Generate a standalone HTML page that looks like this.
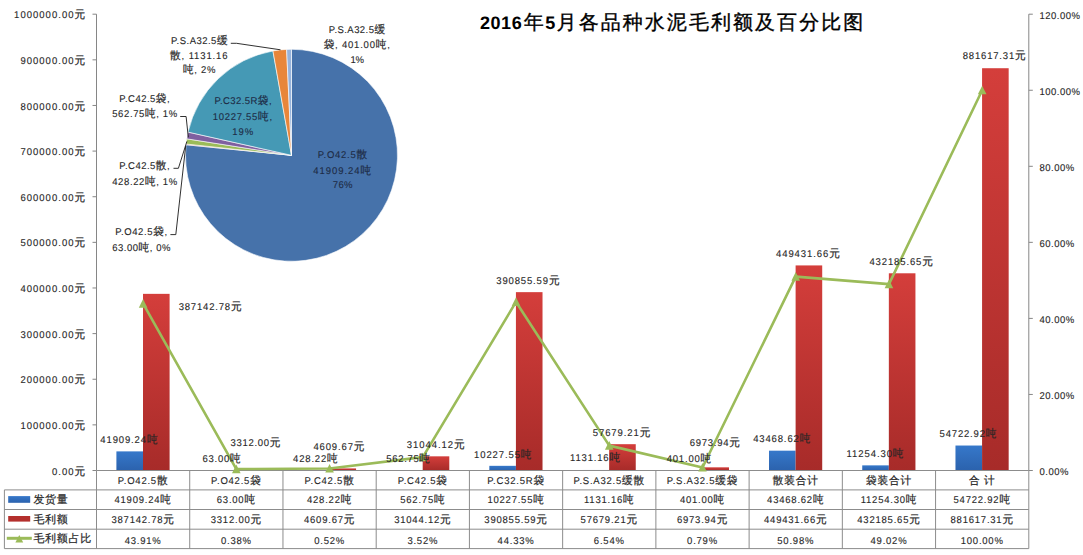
<!DOCTYPE html>
<html><head><meta charset="utf-8"><style>
html,body{margin:0;padding:0;background:#fff;}
body{width:1083px;height:555px;overflow:hidden;}
svg{display:block;font-family:"Liberation Sans",sans-serif;text-rendering:geometricPrecision;}

</style></head><body>
<svg width="1083" height="555" viewBox="0 0 1083 555">
<defs>
<linearGradient id="gr" x1="0" y1="0" x2="0" y2="1"><stop offset="0" stop-color="#d43e3b"/><stop offset="1" stop-color="#a72b29"/></linearGradient>
<linearGradient id="gb" x1="0" y1="0" x2="0" y2="1"><stop offset="0" stop-color="#3678ca"/><stop offset="1" stop-color="#2b62ad"/></linearGradient>
</defs>
<rect x="116.40" y="451.38" width="26.6" height="19.12" fill="url(#gb)"/>
<rect x="143.00" y="293.85" width="26.6" height="176.65" fill="url(#gr)"/>
<rect x="209.63" y="470.47" width="26.6" height="0.03" fill="url(#gb)"/>
<rect x="236.23" y="468.99" width="26.6" height="1.51" fill="url(#gr)"/>
<rect x="302.86" y="470.30" width="26.6" height="0.20" fill="url(#gb)"/>
<rect x="329.46" y="468.40" width="26.6" height="2.10" fill="url(#gr)"/>
<rect x="396.09" y="470.24" width="26.6" height="0.26" fill="url(#gb)"/>
<rect x="422.69" y="456.33" width="26.6" height="14.17" fill="url(#gr)"/>
<rect x="489.32" y="465.83" width="26.6" height="4.67" fill="url(#gb)"/>
<rect x="515.92" y="292.15" width="26.6" height="178.35" fill="url(#gr)"/>
<rect x="582.55" y="469.98" width="26.6" height="0.52" fill="url(#gb)"/>
<rect x="609.15" y="444.18" width="26.6" height="26.32" fill="url(#gr)"/>
<rect x="675.78" y="470.32" width="26.6" height="0.18" fill="url(#gb)"/>
<rect x="702.38" y="467.32" width="26.6" height="3.18" fill="url(#gr)"/>
<rect x="769.01" y="450.67" width="26.6" height="19.83" fill="url(#gb)"/>
<rect x="795.61" y="265.42" width="26.6" height="205.08" fill="url(#gr)"/>
<rect x="862.24" y="465.36" width="26.6" height="5.14" fill="url(#gb)"/>
<rect x="888.84" y="273.29" width="26.6" height="197.21" fill="url(#gr)"/>
<rect x="955.47" y="445.53" width="26.6" height="24.97" fill="url(#gb)"/>
<rect x="982.07" y="68.22" width="26.6" height="402.28" fill="url(#gr)"/>
<path d="M96.5 14.2V470.5M1028.80 14.2V470.5" stroke="#868686" stroke-width="1" fill="none"/>
<path d="M92.5 470.50H96.5M92.5 424.87H96.5M92.5 379.24H96.5M92.5 333.61H96.5M92.5 287.98H96.5M92.5 242.35H96.5M92.5 196.72H96.5M92.5 151.09H96.5M92.5 105.46H96.5M92.5 59.83H96.5M92.5 14.20H96.5M1028.80 470.50H1032.8M1028.80 394.45H1032.8M1028.80 318.40H1032.8M1028.80 242.35H1032.8M1028.80 166.30H1032.8M1028.80 90.25H1032.8M1028.80 14.20H1032.8" stroke="#868686" stroke-width="1" fill="none"/>
<text transform="translate(86.20 474.55) scale(0.97 1)" font-size="9.8" text-anchor="end" fill="#262626" stroke="#262626" stroke-width="0.11" letter-spacing="1.05" >0.00<tspan font-size="11" stroke-width="0.2">元</tspan></text>
<text transform="translate(86.20 428.92) scale(0.97 1)" font-size="9.8" text-anchor="end" fill="#262626" stroke="#262626" stroke-width="0.11" letter-spacing="1.05" >100000.00<tspan font-size="11" stroke-width="0.2">元</tspan></text>
<text transform="translate(86.20 383.29) scale(0.97 1)" font-size="9.8" text-anchor="end" fill="#262626" stroke="#262626" stroke-width="0.11" letter-spacing="1.05" >200000.00<tspan font-size="11" stroke-width="0.2">元</tspan></text>
<text transform="translate(86.20 337.66) scale(0.97 1)" font-size="9.8" text-anchor="end" fill="#262626" stroke="#262626" stroke-width="0.11" letter-spacing="1.05" >300000.00<tspan font-size="11" stroke-width="0.2">元</tspan></text>
<text transform="translate(86.20 292.03) scale(0.97 1)" font-size="9.8" text-anchor="end" fill="#262626" stroke="#262626" stroke-width="0.11" letter-spacing="1.05" >400000.00<tspan font-size="11" stroke-width="0.2">元</tspan></text>
<text transform="translate(86.20 246.40) scale(0.97 1)" font-size="9.8" text-anchor="end" fill="#262626" stroke="#262626" stroke-width="0.11" letter-spacing="1.05" >500000.00<tspan font-size="11" stroke-width="0.2">元</tspan></text>
<text transform="translate(86.20 200.77) scale(0.97 1)" font-size="9.8" text-anchor="end" fill="#262626" stroke="#262626" stroke-width="0.11" letter-spacing="1.05" >600000.00<tspan font-size="11" stroke-width="0.2">元</tspan></text>
<text transform="translate(86.20 155.14) scale(0.97 1)" font-size="9.8" text-anchor="end" fill="#262626" stroke="#262626" stroke-width="0.11" letter-spacing="1.05" >700000.00<tspan font-size="11" stroke-width="0.2">元</tspan></text>
<text transform="translate(86.20 109.51) scale(0.97 1)" font-size="9.8" text-anchor="end" fill="#262626" stroke="#262626" stroke-width="0.11" letter-spacing="1.05" >800000.00<tspan font-size="11" stroke-width="0.2">元</tspan></text>
<text transform="translate(86.20 63.88) scale(0.97 1)" font-size="9.8" text-anchor="end" fill="#262626" stroke="#262626" stroke-width="0.11" letter-spacing="1.05" >900000.00<tspan font-size="11" stroke-width="0.2">元</tspan></text>
<text transform="translate(86.20 18.25) scale(0.97 1)" font-size="9.8" text-anchor="end" fill="#262626" stroke="#262626" stroke-width="0.11" letter-spacing="1.05" >1000000.00<tspan font-size="11" stroke-width="0.2">元</tspan></text>
<text transform="translate(1039.60 475.40) scale(0.97 1)" font-size="9.8" text-anchor="start" fill="#262626" stroke="#262626" stroke-width="0.11" letter-spacing="0.48" >0.00%</text>
<text transform="translate(1039.60 399.35) scale(0.97 1)" font-size="9.8" text-anchor="start" fill="#262626" stroke="#262626" stroke-width="0.11" letter-spacing="0.48" >20.00%</text>
<text transform="translate(1039.60 323.30) scale(0.97 1)" font-size="9.8" text-anchor="start" fill="#262626" stroke="#262626" stroke-width="0.11" letter-spacing="0.48" >40.00%</text>
<text transform="translate(1039.60 247.25) scale(0.97 1)" font-size="9.8" text-anchor="start" fill="#262626" stroke="#262626" stroke-width="0.11" letter-spacing="0.48" >60.00%</text>
<text transform="translate(1039.60 171.20) scale(0.97 1)" font-size="9.8" text-anchor="start" fill="#262626" stroke="#262626" stroke-width="0.11" letter-spacing="0.48" >80.00%</text>
<text transform="translate(1039.60 95.15) scale(0.97 1)" font-size="9.8" text-anchor="start" fill="#262626" stroke="#262626" stroke-width="0.11" letter-spacing="0.48" >100.00%</text>
<text transform="translate(1039.60 19.10) scale(0.97 1)" font-size="9.8" text-anchor="start" fill="#262626" stroke="#262626" stroke-width="0.11" letter-spacing="0.48" >120.00%</text>
<path d="M96.5 470.5H1028.80M4.4 489.9H1028.80M4.4 509.5H1028.80M4.4 529.2H1028.80M4.4 548.6H1028.80M96.50 470.5V548.6M189.73 470.5V548.6M282.96 470.5V548.6M376.19 470.5V548.6M469.42 470.5V548.6M562.65 470.5V548.6M655.88 470.5V548.6M749.11 470.5V548.6M842.34 470.5V548.6M935.57 470.5V548.6M1028.80 470.5V548.6M4.4 489.9V548.6" stroke="#8c8c8c" stroke-width="1" fill="none"/>
<text transform="translate(143.12 484.20) scale(0.97 1)" font-size="9.8" text-anchor="middle" fill="#262626" stroke="#262626" stroke-width="0.11" letter-spacing="0.8" >P.O42.5<tspan font-size="11" stroke-width="0.2">散</tspan></text>
<text transform="translate(143.12 503.20) scale(0.97 1)" font-size="9.8" text-anchor="middle" fill="#262626" stroke="#262626" stroke-width="0.11" letter-spacing="0.8" >41909.24<tspan font-size="11" stroke-width="0.2">吨</tspan></text>
<text transform="translate(143.12 522.70) scale(0.97 1)" font-size="9.8" text-anchor="middle" fill="#262626" stroke="#262626" stroke-width="0.11" letter-spacing="0.8" >387142.78<tspan font-size="11" stroke-width="0.2">元</tspan></text>
<text transform="translate(143.12 543.50) scale(0.97 1)" font-size="9.8" text-anchor="middle" fill="#262626" stroke="#262626" stroke-width="0.11" letter-spacing="0.8" >43.91%</text>
<text transform="translate(236.34 484.20) scale(0.97 1)" font-size="9.8" text-anchor="middle" fill="#262626" stroke="#262626" stroke-width="0.11" letter-spacing="0.8" >P.O42.5<tspan font-size="11" stroke-width="0.2">袋</tspan></text>
<text transform="translate(236.34 503.20) scale(0.97 1)" font-size="9.8" text-anchor="middle" fill="#262626" stroke="#262626" stroke-width="0.11" letter-spacing="0.8" >63.00<tspan font-size="11" stroke-width="0.2">吨</tspan></text>
<text transform="translate(236.34 522.70) scale(0.97 1)" font-size="9.8" text-anchor="middle" fill="#262626" stroke="#262626" stroke-width="0.11" letter-spacing="0.8" >3312.00<tspan font-size="11" stroke-width="0.2">元</tspan></text>
<text transform="translate(236.34 543.50) scale(0.97 1)" font-size="9.8" text-anchor="middle" fill="#262626" stroke="#262626" stroke-width="0.11" letter-spacing="0.8" >0.38%</text>
<text transform="translate(329.58 484.20) scale(0.97 1)" font-size="9.8" text-anchor="middle" fill="#262626" stroke="#262626" stroke-width="0.11" letter-spacing="0.8" >P.C42.5<tspan font-size="11" stroke-width="0.2">散</tspan></text>
<text transform="translate(329.58 503.20) scale(0.97 1)" font-size="9.8" text-anchor="middle" fill="#262626" stroke="#262626" stroke-width="0.11" letter-spacing="0.8" >428.22<tspan font-size="11" stroke-width="0.2">吨</tspan></text>
<text transform="translate(329.58 522.70) scale(0.97 1)" font-size="9.8" text-anchor="middle" fill="#262626" stroke="#262626" stroke-width="0.11" letter-spacing="0.8" >4609.67<tspan font-size="11" stroke-width="0.2">元</tspan></text>
<text transform="translate(329.58 543.50) scale(0.97 1)" font-size="9.8" text-anchor="middle" fill="#262626" stroke="#262626" stroke-width="0.11" letter-spacing="0.8" >0.52%</text>
<text transform="translate(422.81 484.20) scale(0.97 1)" font-size="9.8" text-anchor="middle" fill="#262626" stroke="#262626" stroke-width="0.11" letter-spacing="0.8" >P.C42.5<tspan font-size="11" stroke-width="0.2">袋</tspan></text>
<text transform="translate(422.81 503.20) scale(0.97 1)" font-size="9.8" text-anchor="middle" fill="#262626" stroke="#262626" stroke-width="0.11" letter-spacing="0.8" >562.75<tspan font-size="11" stroke-width="0.2">吨</tspan></text>
<text transform="translate(422.81 522.70) scale(0.97 1)" font-size="9.8" text-anchor="middle" fill="#262626" stroke="#262626" stroke-width="0.11" letter-spacing="0.8" >31044.12<tspan font-size="11" stroke-width="0.2">元</tspan></text>
<text transform="translate(422.81 543.50) scale(0.97 1)" font-size="9.8" text-anchor="middle" fill="#262626" stroke="#262626" stroke-width="0.11" letter-spacing="0.8" >3.52%</text>
<text transform="translate(516.04 484.20) scale(0.97 1)" font-size="9.8" text-anchor="middle" fill="#262626" stroke="#262626" stroke-width="0.11" letter-spacing="0.8" >P.C32.5R<tspan font-size="11" stroke-width="0.2">袋</tspan></text>
<text transform="translate(516.04 503.20) scale(0.97 1)" font-size="9.8" text-anchor="middle" fill="#262626" stroke="#262626" stroke-width="0.11" letter-spacing="0.8" >10227.55<tspan font-size="11" stroke-width="0.2">吨</tspan></text>
<text transform="translate(516.04 522.70) scale(0.97 1)" font-size="9.8" text-anchor="middle" fill="#262626" stroke="#262626" stroke-width="0.11" letter-spacing="0.8" >390855.59<tspan font-size="11" stroke-width="0.2">元</tspan></text>
<text transform="translate(516.04 543.50) scale(0.97 1)" font-size="9.8" text-anchor="middle" fill="#262626" stroke="#262626" stroke-width="0.11" letter-spacing="0.8" >44.33%</text>
<text transform="translate(609.26 484.20) scale(0.97 1)" font-size="9.8" text-anchor="middle" fill="#262626" stroke="#262626" stroke-width="0.11" letter-spacing="0.8" >P.S.A32.5<tspan font-size="11" stroke-width="0.2">缓散</tspan></text>
<text transform="translate(609.26 503.20) scale(0.97 1)" font-size="9.8" text-anchor="middle" fill="#262626" stroke="#262626" stroke-width="0.11" letter-spacing="0.8" >1131.16<tspan font-size="11" stroke-width="0.2">吨</tspan></text>
<text transform="translate(609.26 522.70) scale(0.97 1)" font-size="9.8" text-anchor="middle" fill="#262626" stroke="#262626" stroke-width="0.11" letter-spacing="0.8" >57679.21<tspan font-size="11" stroke-width="0.2">元</tspan></text>
<text transform="translate(609.26 543.50) scale(0.97 1)" font-size="9.8" text-anchor="middle" fill="#262626" stroke="#262626" stroke-width="0.11" letter-spacing="0.8" >6.54%</text>
<text transform="translate(702.50 484.20) scale(0.97 1)" font-size="9.8" text-anchor="middle" fill="#262626" stroke="#262626" stroke-width="0.11" letter-spacing="0.8" >P.S.A32.5<tspan font-size="11" stroke-width="0.2">缓袋</tspan></text>
<text transform="translate(702.50 503.20) scale(0.97 1)" font-size="9.8" text-anchor="middle" fill="#262626" stroke="#262626" stroke-width="0.11" letter-spacing="0.8" >401.00<tspan font-size="11" stroke-width="0.2">吨</tspan></text>
<text transform="translate(702.50 522.70) scale(0.97 1)" font-size="9.8" text-anchor="middle" fill="#262626" stroke="#262626" stroke-width="0.11" letter-spacing="0.8" >6973.94<tspan font-size="11" stroke-width="0.2">元</tspan></text>
<text transform="translate(702.50 543.50) scale(0.97 1)" font-size="9.8" text-anchor="middle" fill="#262626" stroke="#262626" stroke-width="0.11" letter-spacing="0.8" >0.79%</text>
<text transform="translate(795.73 484.20) scale(0.97 1)" font-size="9.8" text-anchor="middle" fill="#262626" stroke="#262626" stroke-width="0.11" letter-spacing="0.8" ><tspan font-size="11" stroke-width="0.2">散装合计</tspan></text>
<text transform="translate(795.73 503.20) scale(0.97 1)" font-size="9.8" text-anchor="middle" fill="#262626" stroke="#262626" stroke-width="0.11" letter-spacing="0.8" >43468.62<tspan font-size="11" stroke-width="0.2">吨</tspan></text>
<text transform="translate(795.73 522.70) scale(0.97 1)" font-size="9.8" text-anchor="middle" fill="#262626" stroke="#262626" stroke-width="0.11" letter-spacing="0.8" >449431.66<tspan font-size="11" stroke-width="0.2">元</tspan></text>
<text transform="translate(795.73 543.50) scale(0.97 1)" font-size="9.8" text-anchor="middle" fill="#262626" stroke="#262626" stroke-width="0.11" letter-spacing="0.8" >50.98%</text>
<text transform="translate(888.96 484.20) scale(0.97 1)" font-size="9.8" text-anchor="middle" fill="#262626" stroke="#262626" stroke-width="0.11" letter-spacing="0.8" ><tspan font-size="11" stroke-width="0.2">袋装合计</tspan></text>
<text transform="translate(888.96 503.20) scale(0.97 1)" font-size="9.8" text-anchor="middle" fill="#262626" stroke="#262626" stroke-width="0.11" letter-spacing="0.8" >11254.30<tspan font-size="11" stroke-width="0.2">吨</tspan></text>
<text transform="translate(888.96 522.70) scale(0.97 1)" font-size="9.8" text-anchor="middle" fill="#262626" stroke="#262626" stroke-width="0.11" letter-spacing="0.8" >432185.65<tspan font-size="11" stroke-width="0.2">元</tspan></text>
<text transform="translate(888.96 543.50) scale(0.97 1)" font-size="9.8" text-anchor="middle" fill="#262626" stroke="#262626" stroke-width="0.11" letter-spacing="0.8" >49.02%</text>
<text transform="translate(982.19 484.20) scale(0.97 1)" font-size="9.8" text-anchor="middle" fill="#262626" stroke="#262626" stroke-width="0.11" letter-spacing="0.8" ><tspan font-size="11" stroke-width="0.2">合</tspan> <tspan font-size="11" stroke-width="0.2">计</tspan></text>
<text transform="translate(982.19 503.20) scale(0.97 1)" font-size="9.8" text-anchor="middle" fill="#262626" stroke="#262626" stroke-width="0.11" letter-spacing="0.8" >54722.92<tspan font-size="11" stroke-width="0.2">吨</tspan></text>
<text transform="translate(982.19 522.70) scale(0.97 1)" font-size="9.8" text-anchor="middle" fill="#262626" stroke="#262626" stroke-width="0.11" letter-spacing="0.8" >881617.31<tspan font-size="11" stroke-width="0.2">元</tspan></text>
<text transform="translate(982.19 543.50) scale(0.97 1)" font-size="9.8" text-anchor="middle" fill="#262626" stroke="#262626" stroke-width="0.11" letter-spacing="0.8" >100.00%</text>
<rect x="8.2" y="496.1" width="22" height="6.7" fill="url(#gb)"/>
<rect x="8.2" y="516" width="22" height="5.6" fill="#b4302d"/>
<path d="M6.8 538.3H31.8" stroke="#9bbb59" stroke-width="3"/>
<path d="M19.3 535 L23.2 542.6 L15.4 542.6Z" fill="#9bbb59"/>
<text transform="translate(33.40 503.00) scale(1.0 1)" font-size="11" text-anchor="start" fill="#262626" stroke="#262626" stroke-width="0.2" letter-spacing="0.7" ><tspan font-size="11" stroke-width="0.2">发货量</tspan></text>
<text transform="translate(33.40 523.00) scale(1.0 1)" font-size="11" text-anchor="start" fill="#262626" stroke="#262626" stroke-width="0.2" letter-spacing="0.7" ><tspan font-size="11" stroke-width="0.2">毛利额</tspan></text>
<text transform="translate(33.40 542.30) scale(1.0 1)" font-size="11" text-anchor="start" fill="#262626" stroke="#262626" stroke-width="0.2" letter-spacing="0.7" ><tspan font-size="11" stroke-width="0.2">毛利额占比</tspan></text>
<polyline points="143.12,303.53 236.34,469.06 329.58,468.52 422.81,457.12 516.04,301.94 609.26,445.63 702.50,467.50 795.73,276.65 888.96,284.10 982.19,90.25" fill="none" stroke="#9bbb59" stroke-width="2.6" stroke-linejoin="round"/>
<path d="M143.12 298.93L147.42 307.63L138.81 307.63Z" fill="#9bbb59"/>
<path d="M236.34 464.46L240.65 473.16L232.04 473.16Z" fill="#9bbb59"/>
<path d="M329.58 463.92L333.88 472.62L325.28 472.62Z" fill="#9bbb59"/>
<path d="M422.81 452.52L427.11 461.22L418.50 461.22Z" fill="#9bbb59"/>
<path d="M516.04 297.34L520.34 306.04L511.74 306.04Z" fill="#9bbb59"/>
<path d="M609.26 441.03L613.56 449.73L604.97 449.73Z" fill="#9bbb59"/>
<path d="M702.50 462.90L706.79 471.60L698.20 471.60Z" fill="#9bbb59"/>
<path d="M795.73 272.05L800.02 280.75L791.43 280.75Z" fill="#9bbb59"/>
<path d="M888.96 279.50L893.25 288.20L884.66 288.20Z" fill="#9bbb59"/>
<path d="M982.19 85.65L986.49 94.35L977.89 94.35Z" fill="#9bbb59"/>
<text transform="translate(128.95 443.00) scale(0.97 1)" font-size="9.8" text-anchor="middle" fill="#262626" stroke="#262626" stroke-width="0.11" textLength="58.97" lengthAdjust="spacing" >41909.24<tspan font-size="11" stroke-width="0.2">吨</tspan></text>
<text transform="translate(210.10 310.10) scale(0.97 1)" font-size="9.8" text-anchor="middle" fill="#262626" stroke="#262626" stroke-width="0.11" textLength="64.85" lengthAdjust="spacing" >387142.78<tspan font-size="11" stroke-width="0.2">元</tspan></text>
<text transform="translate(221.55 461.90) scale(0.97 1)" font-size="9.8" text-anchor="middle" fill="#262626" stroke="#262626" stroke-width="0.11" textLength="39.38" lengthAdjust="spacing" >63.00<tspan font-size="11" stroke-width="0.2">吨</tspan></text>
<text transform="translate(255.45 446.00) scale(0.97 1)" font-size="9.8" text-anchor="middle" fill="#262626" stroke="#262626" stroke-width="0.11" textLength="51.34" lengthAdjust="spacing" >3312.00<tspan font-size="11" stroke-width="0.2">元</tspan></text>
<text transform="translate(315.40 462.30) scale(0.97 1)" font-size="9.8" text-anchor="middle" fill="#262626" stroke="#262626" stroke-width="0.11" textLength="46.08" lengthAdjust="spacing" >428.22<tspan font-size="11" stroke-width="0.2">吨</tspan></text>
<text transform="translate(338.95 450.30) scale(0.97 1)" font-size="9.8" text-anchor="middle" fill="#262626" stroke="#262626" stroke-width="0.11" textLength="52.58" lengthAdjust="spacing" >4609.67<tspan font-size="11" stroke-width="0.2">元</tspan></text>
<text transform="translate(408.20 462.30) scale(0.97 1)" font-size="9.8" text-anchor="middle" fill="#262626" stroke="#262626" stroke-width="0.11" textLength="45.05" lengthAdjust="spacing" >562.75<tspan font-size="11" stroke-width="0.2">吨</tspan></text>
<text transform="translate(435.65 447.50) scale(0.97 1)" font-size="9.8" text-anchor="middle" fill="#262626" stroke="#262626" stroke-width="0.11" textLength="59.79" lengthAdjust="spacing" >31044.12<tspan font-size="11" stroke-width="0.2">元</tspan></text>
<text transform="translate(502.80 457.70) scale(0.97 1)" font-size="9.8" text-anchor="middle" fill="#262626" stroke="#262626" stroke-width="0.11" textLength="59.28" lengthAdjust="spacing" >10227.55<tspan font-size="11" stroke-width="0.2">吨</tspan></text>
<text transform="translate(527.90 283.50) scale(0.97 1)" font-size="9.8" text-anchor="middle" fill="#262626" stroke="#262626" stroke-width="0.11" textLength="65.26" lengthAdjust="spacing" >390855.59<tspan font-size="11" stroke-width="0.2">元</tspan></text>
<text transform="translate(595.10 461.40) scale(0.97 1)" font-size="9.8" text-anchor="middle" fill="#262626" stroke="#262626" stroke-width="0.11" textLength="51.65" lengthAdjust="spacing" >1131.16<tspan font-size="11" stroke-width="0.2">吨</tspan></text>
<text transform="translate(621.55 435.70) scale(0.97 1)" font-size="9.8" text-anchor="middle" fill="#262626" stroke="#262626" stroke-width="0.11" textLength="59.38" lengthAdjust="spacing" >57679.21<tspan font-size="11" stroke-width="0.2">元</tspan></text>
<text transform="translate(688.95 461.90) scale(0.97 1)" font-size="9.8" text-anchor="middle" fill="#262626" stroke="#262626" stroke-width="0.11" textLength="45.98" lengthAdjust="spacing" >401.00<tspan font-size="11" stroke-width="0.2">吨</tspan></text>
<text transform="translate(714.80 445.80) scale(0.97 1)" font-size="9.8" text-anchor="middle" fill="#262626" stroke="#262626" stroke-width="0.11" textLength="51.65" lengthAdjust="spacing" >6973.94<tspan font-size="11" stroke-width="0.2">元</tspan></text>
<text transform="translate(781.75 442.10) scale(0.97 1)" font-size="9.8" text-anchor="middle" fill="#262626" stroke="#262626" stroke-width="0.11" textLength="58.97" lengthAdjust="spacing" >43468.62<tspan font-size="11" stroke-width="0.2">吨</tspan></text>
<text transform="translate(807.95 257.20) scale(0.97 1)" font-size="9.8" text-anchor="middle" fill="#262626" stroke="#262626" stroke-width="0.11" textLength="65.98" lengthAdjust="spacing" >449431.66<tspan font-size="11" stroke-width="0.2">元</tspan></text>
<text transform="translate(875.05 456.90) scale(0.97 1)" font-size="9.8" text-anchor="middle" fill="#262626" stroke="#262626" stroke-width="0.11" textLength="58.76" lengthAdjust="spacing" >11254.30<tspan font-size="11" stroke-width="0.2">吨</tspan></text>
<text transform="translate(901.20 265.40) scale(0.97 1)" font-size="9.8" text-anchor="middle" fill="#262626" stroke="#262626" stroke-width="0.11" textLength="65.46" lengthAdjust="spacing" >432185.65<tspan font-size="11" stroke-width="0.2">元</tspan></text>
<text transform="translate(968.00 437.30) scale(0.97 1)" font-size="9.8" text-anchor="middle" fill="#262626" stroke="#262626" stroke-width="0.11" textLength="58.66" lengthAdjust="spacing" >54722.92<tspan font-size="11" stroke-width="0.2">吨</tspan></text>
<text transform="translate(994.20 59.20) scale(0.97 1)" font-size="9.8" text-anchor="middle" fill="#262626" stroke="#262626" stroke-width="0.11" textLength="65.05" lengthAdjust="spacing" >881617.31<tspan font-size="11" stroke-width="0.2">元</tspan></text>
<path d="M291.5 155.3L291.50 49.30A106.0 106.0 0 1 1 186.02 144.76Z" fill="#4672aa" stroke="#fff" stroke-width="0.6" stroke-linejoin="round"/>
<path d="M291.5 155.3L186.02 144.76A106.0 106.0 0 0 1 186.10 144.00Z" fill="#c0504d" stroke="#fff" stroke-width="0.6" stroke-linejoin="round"/>
<path d="M291.5 155.3L186.10 144.00A106.0 106.0 0 0 1 186.79 138.84Z" fill="#9bbb59" stroke="#fff" stroke-width="0.6" stroke-linejoin="round"/>
<path d="M291.5 155.3L186.79 138.84A106.0 106.0 0 0 1 188.07 132.11Z" fill="#7f5fa0" stroke="#fff" stroke-width="0.6" stroke-linejoin="round"/>
<path d="M291.5 155.3L188.07 132.11A106.0 106.0 0 0 1 272.95 50.94Z" fill="#4599b5" stroke="#fff" stroke-width="0.6" stroke-linejoin="round"/>
<path d="M291.5 155.3L272.95 50.94A106.0 106.0 0 0 1 286.62 49.41Z" fill="#e8863a" stroke="#fff" stroke-width="0.6" stroke-linejoin="round"/>
<path d="M291.5 155.3L286.62 49.41A106.0 106.0 0 0 1 291.50 49.30Z" fill="#96b3dc" stroke="#fff" stroke-width="0.6" stroke-linejoin="round"/>
<text transform="translate(199.25 43.50) scale(0.97 1)" font-size="9.8" text-anchor="middle" fill="#262626" stroke="#262626" stroke-width="0.11" textLength="58.35" lengthAdjust="spacing" >P.S.A32.5<tspan font-size="11" stroke-width="0.2">缓</tspan></text>
<text transform="translate(198.80 58.60) scale(0.97 1)" font-size="9.8" text-anchor="middle" fill="#262626" stroke="#262626" stroke-width="0.11" textLength="59.28" lengthAdjust="spacing" ><tspan font-size="11" stroke-width="0.2">散</tspan>, 1131.16</text>
<text transform="translate(199.25 73.40) scale(0.97 1)" font-size="9.8" text-anchor="middle" fill="#262626" stroke="#262626" stroke-width="0.11" textLength="33.61" lengthAdjust="spacing" ><tspan font-size="11" stroke-width="0.2">吨</tspan>, 2%</text>
<text transform="translate(356.95 33.10) scale(0.97 1)" font-size="9.8" text-anchor="middle" fill="#262626" stroke="#262626" stroke-width="0.11" textLength="57.94" lengthAdjust="spacing" >P.S.A32.5<tspan font-size="11" stroke-width="0.2">缓</tspan></text>
<text transform="translate(356.75 48.20) scale(0.97 1)" font-size="9.8" text-anchor="middle" fill="#262626" stroke="#262626" stroke-width="0.11" textLength="68.25" lengthAdjust="spacing" ><tspan font-size="11" stroke-width="0.2">袋</tspan>, 401.00<tspan font-size="11" stroke-width="0.2">吨</tspan>,</text>
<text transform="translate(357.20 62.80) scale(0.97 1)" font-size="9.8" text-anchor="middle" fill="#262626" stroke="#262626" stroke-width="0.11" textLength="13.92" lengthAdjust="spacing" >1%</text>
<text transform="translate(144.45 101.50) scale(0.97 1)" font-size="9.8" text-anchor="middle" fill="#262626" stroke="#262626" stroke-width="0.11" textLength="51.75" lengthAdjust="spacing" >P.C42.5<tspan font-size="11" stroke-width="0.2">袋</tspan>,</text>
<text transform="translate(144.70 117.30) scale(0.97 1)" font-size="9.8" text-anchor="middle" fill="#262626" stroke="#262626" stroke-width="0.11" textLength="67.11" lengthAdjust="spacing" >562.75<tspan font-size="11" stroke-width="0.2">吨</tspan>, 1%</text>
<text transform="translate(144.45 168.70) scale(0.97 1)" font-size="9.8" text-anchor="middle" fill="#262626" stroke="#262626" stroke-width="0.11" textLength="51.75" lengthAdjust="spacing" >P.C42.5<tspan font-size="11" stroke-width="0.2">散</tspan>,</text>
<text transform="translate(144.70 185.10) scale(0.97 1)" font-size="9.8" text-anchor="middle" fill="#262626" stroke="#262626" stroke-width="0.11" textLength="67.11" lengthAdjust="spacing" >428.22<tspan font-size="11" stroke-width="0.2">吨</tspan>, 1%</text>
<text transform="translate(141.15 234.70) scale(0.97 1)" font-size="9.8" text-anchor="middle" fill="#262626" stroke="#262626" stroke-width="0.11" textLength="53.61" lengthAdjust="spacing" >P.O42.5<tspan font-size="11" stroke-width="0.2">袋</tspan>,</text>
<text transform="translate(141.30 250.90) scale(0.97 1)" font-size="9.8" text-anchor="middle" fill="#262626" stroke="#262626" stroke-width="0.11" textLength="60.10" lengthAdjust="spacing" >63.00<tspan font-size="11" stroke-width="0.2">吨</tspan>, 0%</text>
<text transform="translate(243.00 104.20) scale(0.97 1)" font-size="9.8" text-anchor="middle" fill="#1d2b45" stroke="#1d2b45" stroke-width="0.11" textLength="58.87" lengthAdjust="spacing" >P.C32.5R<tspan font-size="11" stroke-width="0.2">袋</tspan>,</text>
<text transform="translate(242.45 119.90) scale(0.97 1)" font-size="9.8" text-anchor="middle" fill="#1d2b45" stroke="#1d2b45" stroke-width="0.11" textLength="61.03" lengthAdjust="spacing" >10227.55<tspan font-size="11" stroke-width="0.2">吨</tspan>,</text>
<text transform="translate(242.70 134.50) scale(0.97 1)" font-size="9.8" text-anchor="middle" fill="#1d2b45" stroke="#1d2b45" stroke-width="0.11" textLength="21.55" lengthAdjust="spacing" >19%</text>
<text transform="translate(342.40 157.50) scale(0.97 1)" font-size="9.8" text-anchor="middle" fill="#1d2b45" stroke="#1d2b45" stroke-width="0.11" textLength="51.03" lengthAdjust="spacing" >P.O42.5<tspan font-size="11" stroke-width="0.2">散</tspan></text>
<text transform="translate(342.30 174.00) scale(0.97 1)" font-size="9.8" text-anchor="middle" fill="#1d2b45" stroke="#1d2b45" stroke-width="0.11" textLength="59.69" lengthAdjust="spacing" >41909.24<tspan font-size="11" stroke-width="0.2">吨</tspan></text>
<text transform="translate(342.70 187.80) scale(0.97 1)" font-size="9.8" text-anchor="middle" fill="#1d2b45" stroke="#1d2b45" stroke-width="0.11" textLength="20.31" lengthAdjust="spacing" >76%</text>
<path d="M230.8 43.3H236.5L280.5 49.8M180.2 116.5H186.1L188.3 137.3M173.5 168.3H178.4L186.9 141.4M170.4 234.6H175.8L185.7 146.0" stroke="#1a1a1a" stroke-width="0.9" fill="none"/>
<text y="29.3" fill="#000" font-size="18"><tspan x="479.9" font-weight="bold" letter-spacing="0.6">2016</tspan><tspan x="523.7" font-size="20" stroke="#000" stroke-width="0.35">年</tspan><tspan x="545.3" font-weight="bold">5</tspan><tspan x="556.6" font-size="20" letter-spacing="2.05" stroke="#000" stroke-width="0.35">月各品种水泥毛利额及百分比图</tspan></text>
</svg>
</body></html>
